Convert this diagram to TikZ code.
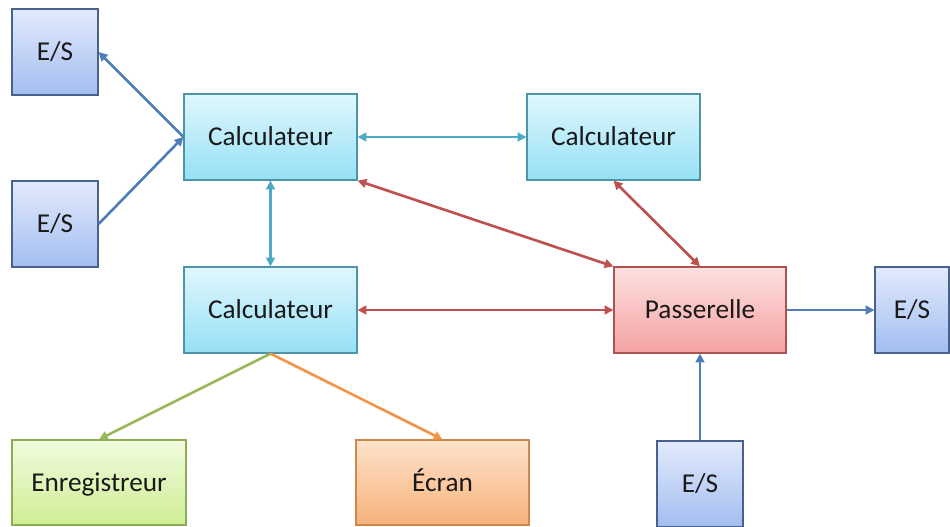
\documentclass[tikz,border=0pt]{standalone}
\usepackage{fontspec}
\setmainfont{Carlito}
\usepackage{tikz}
\usetikzlibrary{arrows.meta}
\definecolor{estop}{RGB}{226, 234, 252}
\definecolor{esbot}{RGB}{163, 189, 240}
\definecolor{esline}{RGB}{72, 98, 140}
\definecolor{calctop}{RGB}{224, 247, 253}
\definecolor{calcbot}{RGB}{150, 224, 245}
\definecolor{calcline}{RGB}{78, 148, 168}
\definecolor{passtop}{RGB}{253, 224, 224}
\definecolor{passbot}{RGB}{245, 162, 162}
\definecolor{passline}{RGB}{172, 82, 80}
\definecolor{enrtop}{RGB}{241, 251, 222}
\definecolor{enrbot}{RGB}{207, 238, 148}
\definecolor{enrline}{RGB}{140, 172, 86}
\definecolor{ecrtop}{RGB}{253, 226, 202}
\definecolor{ecrbot}{RGB}{247, 178, 122}
\definecolor{ecrline}{RGB}{206, 136, 76}
\definecolor{lblue}{RGB}{79, 125, 185}
\definecolor{lteal}{RGB}{75, 170, 196}
\definecolor{lred}{RGB}{190, 80, 77}
\definecolor{lgreen}{RGB}{150, 184, 86}
\definecolor{lorange}{RGB}{244, 148, 70}

\begin{document}
\begin{tikzpicture}[x=0.02cm, y=-0.02cm,
    box/.style={draw, line width=0.7pt, minimum height=1.72cm, text height=2.55ex, text depth=0.5ex,
      font=\fontsize{15.5}{18}\selectfont, text=black!90},
    esbox/.style={box, draw=esline, top color=estop, bottom color=esbot, minimum width=1.72cm},
    calcbox/.style={box, draw=calcline, top color=calctop, bottom color=calcbot, minimum width=3.46cm},
    passbox/.style={box, draw=passline, top color=passtop, bottom color=passbot, minimum width=3.44cm},
    enrbox/.style={box, draw=enrline, top color=enrtop, bottom color=enrbot, minimum width=3.48cm, minimum height=1.7cm},
    ecrbox/.style={box, draw=ecrline, top color=ecrtop, bottom color=ecrbot, minimum width=3.46cm, minimum height=1.7cm},
    link/.style={line width=1.5pt, -{Triangle[length=5pt, width=5pt]}},
    dlink/.style={link, {Triangle[length=5pt, width=5pt]}-{Triangle[length=5pt, width=5pt]}}]
  \useasboundingbox (0, 0) rectangle (950, 527);

  % Calculateurs et passerelle
  \node[calcbox] (calcA) at (270.5, 137) {Calculateur};
  \node[calcbox] (calcB) at (613.5, 137) {Calculateur};
  \node[calcbox] (calcC) at (270.5, 310) {Calculateur};
  \node[passbox] (pass)  at (700, 310)   {Passerelle};

  % Entrees / sorties
  \node[esbox] (esA) at (55, 52)  {E/S};
  \node[esbox] (esB) at (55, 224) {E/S};
  \node[esbox, minimum width=1.48cm] (esC) at (912, 310) {E/S};
  \node[esbox] (esD) at (700, 484) {E/S};

  % Peripheriques
  \node[enrbox] (enreg) at (99, 482.5)    {Enregistreur};
  \node[ecrbox] (ecran) at (442.5, 482.5) {\'Ecran};

  % Liens
  \draw[link, lblue] (calcA.west) -- (esA.east);
  \draw[link, lblue] (esB.east) -- (calcA.west);
  \draw[link, lblue] (pass.east) -- (esC.west);
  \draw[link, lblue] (esD.north) -- (pass.south);

  \draw[dlink, lteal] (calcA.east) -- (calcB.west);
  \draw[dlink, lteal] (calcA.south) -- (calcC.north);

  \foreach \a/\b in {calcA.south east/pass.north west, calcB.south/pass.north, calcC.east/pass.west} {
    \draw[dlink, lred] (\a) -- (\b);
  }

  \draw[link, lgreen]  (calcC.south) -- (enreg.north);
  \draw[link, lorange] (calcC.south) -- (ecran.north);

\end{tikzpicture}
\end{document}
